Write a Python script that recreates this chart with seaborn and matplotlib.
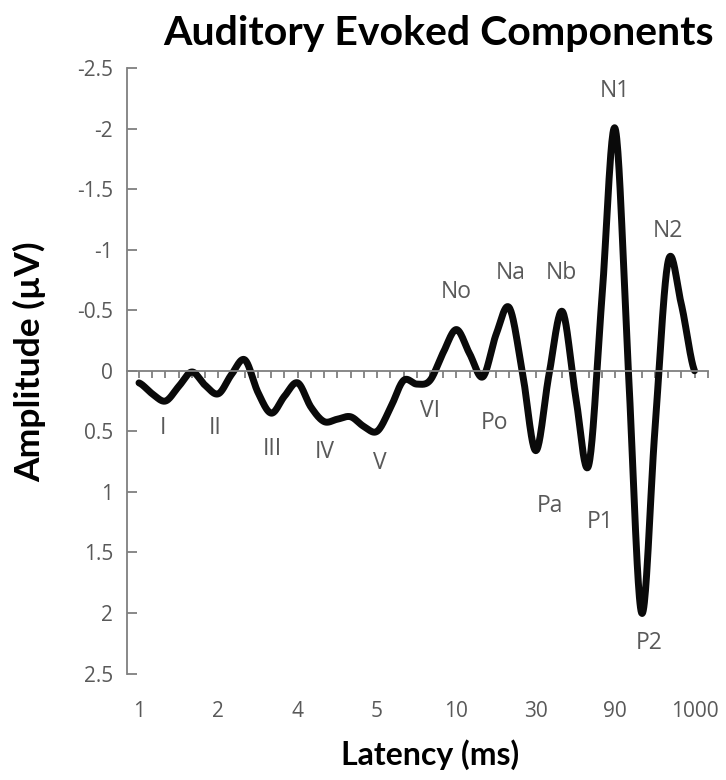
import numpy as np
import pandas as pd
import matplotlib
matplotlib.use("Agg")
import matplotlib.pyplot as plt
import seaborn as sns

# ---- data ----
# category index along the latency axis (ticks 0..43) and amplitude in µV
category_index = list(range(43))
amplitude = [0.10, 0.19, 0.25, 0.13, 0.01, 0.12, 0.19, 0.03, -0.09, 0.18,
             0.35, 0.21, 0.10, 0.30, 0.42, 0.40, 0.38, 0.46, 0.50, 0.31,
             0.08, 0.11, 0.08, -0.15, -0.34, -0.14, 0.05, -0.30, -0.52, 0.02,
             0.66, 0.03, -0.49, 0.20, 0.78, -0.60, -2.00, 0.00, 2.00, 0.50,
             -0.90, -0.55, 0.00]
tick_label_index = [0, 6, 12, 18, 24, 30, 36, 42]
tick_labels = ["1", "2", "4", "5", "10", "30", "90", "1000"]
y_ticks = [-2.5, -2, -1.5, -1, -0.5, 0, 0.5, 1, 1.5, 2, 2.5]
y_tick_labels = ["-2.5", "-2", "-1.5", "-1", "-0.5", "0", "0.5", "1", "1.5", "2", "2.5"]

comp_names = ["I", "II", "III", "IV", "V", "VI", "No", "Po", "Na", "Pa",
              "Nb", "P1", "N1", "P2", "N2"]
comp_x = [1.8, 5.75, 10.1, 14.06, 18.17, 22.0, 24.0, 26.9, 28.1, 31.07,
          31.95, 34.86, 36.0, 38.6, 40.0]
comp_y = [0.47, 0.47, 0.65, 0.67, 0.76, 0.335, -0.65, 0.43, -0.81, 1.12,
          -0.81, 1.245, -2.31, 2.25, -1.15]


def smooth_line(xs, ys, n=24):
    """Catmull-Rom rendering of a smoothed line (as Excel's smoothed line)."""
    xs = np.asarray(xs, float)
    ys = np.asarray(ys, float)
    out_x, out_y = [], []
    N = len(ys)
    for i in range(N - 1):
        p0 = ys[i - 1] if i > 0 else ys[i]
        p1 = ys[i]
        p2 = ys[i + 1]
        p3 = ys[i + 2] if i + 2 < N else ys[i + 1]
        t = np.linspace(0, 1, n, endpoint=False)
        y = 0.5 * (2 * p1 + (-p0 + p2) * t + (2 * p0 - 5 * p1 + 4 * p2 - p3) * t ** 2
                   + (-p0 + 3 * p1 - 3 * p2 + p3) * t ** 3)
        out_x.extend(xs[i] + (xs[i + 1] - xs[i]) * t)
        out_y.extend(y)
    out_x.append(xs[-1])
    out_y.append(ys[-1])
    return np.array(out_x), np.array(out_y)


sns.set_theme(style="white")
plt.rcParams["font.family"] = ["Open Sans", "DejaVu Sans"]

W, H = 726, 780
fig = plt.figure(figsize=(W / 100, H / 100), dpi=100)
left, right, top, bottom = 127, 708, 68, 673.5
ax = fig.add_axes([left / W, 1 - bottom / H, (right - left) / W, (bottom - top) / H])

sx, sy = smooth_line(category_index, amplitude)
df = pd.DataFrame({"x": sx, "y": sy})
sns.lineplot(data=df, x="x", y="y", ax=ax, color="#0a0a0a", linewidth=5,
             sort=False, estimator=None, solid_capstyle="round")

ax.set_xlim(-0.907, 43.02)
ax.set_ylim(2.5, -2.5)

gray_axis = "#7f7f7f"
label_gray = "#595959"

for s in ["top", "right"]:
    ax.spines[s].set_visible(False)
ax.spines["left"].set_color(gray_axis)
ax.spines["left"].set_linewidth(1.3)
ax.spines["bottom"].set_position(("data", 0))
ax.spines["bottom"].set_color(gray_axis)
ax.spines["bottom"].set_linewidth(1.3)

ax.set_yticks(y_ticks)
ax.set_yticklabels(y_tick_labels)
ax.tick_params(axis="y", direction="in", length=7.5, width=1.3, color=gray_axis,
               labelcolor=label_gray, labelsize=15, pad=10, left=True)
ax.set_xticks(list(range(44)))
ax.tick_params(axis="x", direction="out", length=5, width=1.3, color=gray_axis,
               labelbottom=False, bottom=True)

sec = ax.secondary_xaxis("bottom")
sec.set_xticks(tick_label_index)
sec.set_xticklabels(tick_labels)
sec.tick_params(length=0, labelsize=15, labelcolor=label_gray, pad=20)
sec.spines["bottom"].set_visible(False)

ax.set_xlabel("")
ax.set_ylabel("")

for name, cx, cy in zip(comp_names, comp_x, comp_y):
    ax.text(cx, cy, name, ha="center", va="center", fontsize=16.5, color=label_gray)

fig.text(439 / W, 1 - 33 / H, "Auditory Evoked Components", ha="center", va="center",
         fontsize=29.5, fontweight="bold", color="#000000", family=["Lato", "DejaVu Sans"])
fig.text(430 / W, 1 - 755 / H, "Latency (ms)", ha="center", va="center",
         fontsize=23, fontweight="bold", color="#000000", family=["Lato", "DejaVu Sans"])
fig.text(30 / W, 1 - 362 / H, "Amplitude (µV)", ha="center", va="center", rotation=90,
         fontsize=25.5, fontweight="bold", color="#000000", family=["Lato", "DejaVu Sans"])

fig.savefig("out.png", dpi=100)
